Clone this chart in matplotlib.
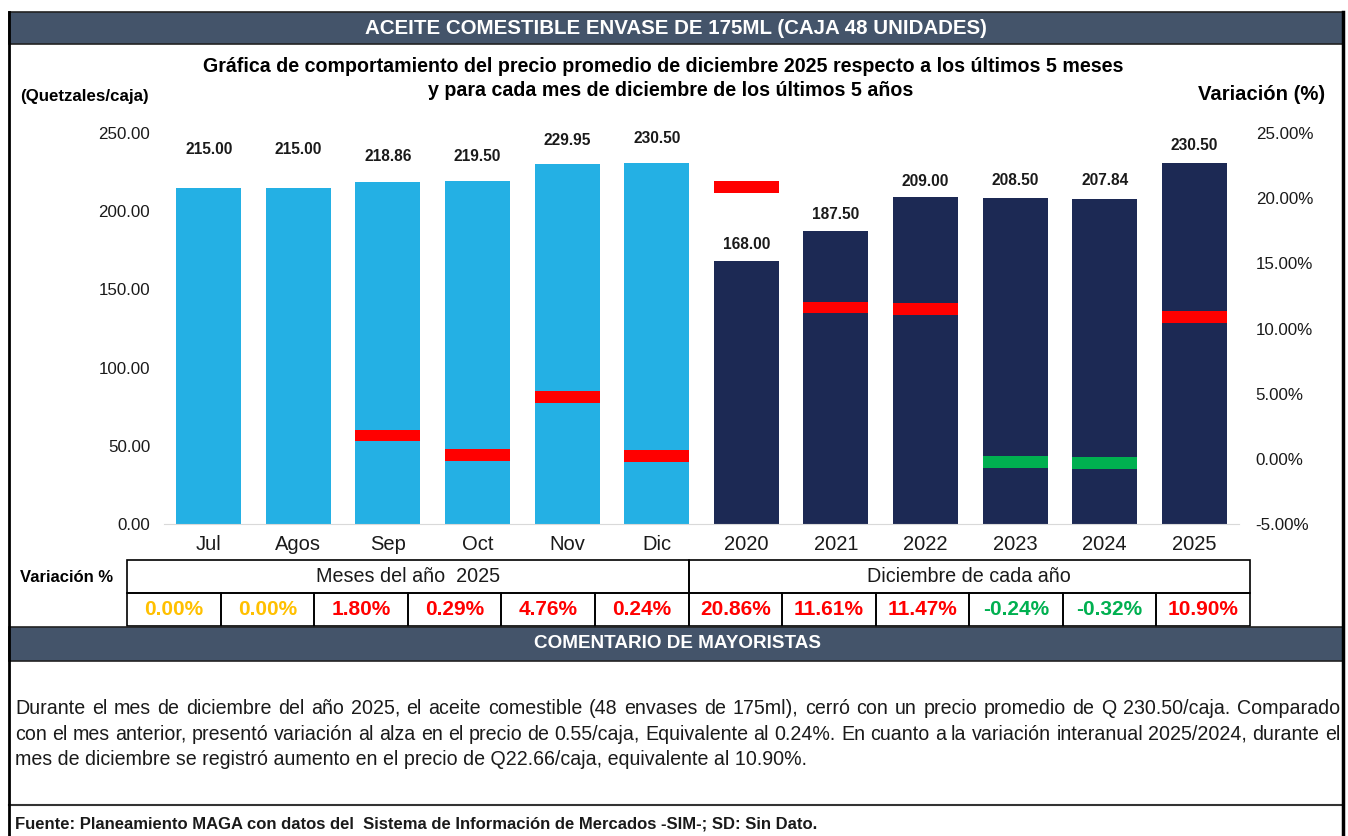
import numpy as np
import matplotlib
matplotlib.use("Agg")
import matplotlib.pyplot as plt
from matplotlib.patches import Rectangle
from matplotlib.lines import Line2D
from matplotlib.ticker import FuncFormatter

plt.rcParams['font.family'] = ['Liberation Sans', 'DejaVu Sans']

# precios promedio (Q/caja) y variación (%)
categories = ['Jul', 'Agos', 'Sep', 'Oct', 'Nov', 'Dic',
              '2020', '2021', '2022', '2023', '2024', '2025']
prices = [215.00, 215.00, 218.86, 219.50, 229.95, 230.50,
          168.00, 187.50, 209.00, 208.50, 207.84, 230.50]
variation = [0.00, 0.00, 1.80, 0.29, 4.76, 0.24,
             20.86, 11.61, 11.47, -0.24, -0.32, 10.90]
group_names = ['Meses del año  2025', 'Diciembre de cada año']
n_months = 6

title = 'ACEITE COMESTIBLE ENVASE DE 175ML (CAJA 48 UNIDADES)'
subtitle = ['Gráfica de comportamiento del precio promedio de diciembre 2025 respecto a los últimos 5 meses',
            'y para cada mes de diciembre de los últimos 5 años']
comment_title = 'COMENTARIO DE MAYORISTAS'
comment = ['Durante el mes de diciembre del año 2025, el aceite comestible (48 envases de 175ml), cerró con un precio promedio de Q 230.50/caja. Comparado',
           'con el mes anterior, presentó variación al alza en el precio de 0.55/caja, Equivalente al 0.24%. En cuanto a la variación interanual 2025/2024, durante el',
           'mes de diciembre se registró aumento en el precio de Q22.66/caja, equivalente al 10.90%.']
source = 'Fuente: Planeamiento MAGA con datos del  Sistema de Información de Mercados -SIM-; SD: Sin Dato.'

# distancia (px) de cada etiqueta sobre su barra
label_lift = [38, 38, 25, 24, 24, 25, 17, 16, 16, 17, 18, 18]

LIGHT = '#24B0E4'
DARK = '#1C2954'
HEADER = '#44546A'
RED = '#FF0000'
GREEN = '#00B050'
YELLOW = '#FFC000'
TXT = '#1A1A1A'

W, H = 1348, 836
fig = plt.figure(figsize=(W / 100, H / 100), dpi=100)


def fx(x):
    return x / W


def fy(y):
    return 1 - y / H


def box(x0, y0, x1, y1, **kw):
    fig.add_artist(Rectangle((fx(x0), fy(y1)), (x1 - x0) / W, (y1 - y0) / H,
                             transform=fig.transFigure, **kw))


def line(x0, y0, x1, y1, **kw):
    fig.add_artist(Line2D([fx(x0), fx(x1)], [fy(y0), fy(y1)],
                          transform=fig.transFigure, **kw))


def var_color(v):
    if v > 0:
        return RED
    if v < 0:
        return GREEN
    return YELLOW


# encabezados
box(9, 12, 1343, 44, facecolor=HEADER, edgecolor='#222222', lw=1.2)
fig.text(fx(676), fy(28), title, color='white', fontsize=14.8, fontweight='bold',
         ha='center', va='center')
fig.text(fx(663), fy(66), subtitle[0], fontsize=14.1, fontweight='bold', ha='center', va='center')
fig.text(fx(671), fy(91), subtitle[1], fontsize=14.1, fontweight='bold', ha='center', va='center')
fig.text(fx(20), fy(97), '(Quetzales/caja)', fontsize=12.2, fontweight='bold', ha='left', va='center')
fig.text(fx(1325), fy(94), 'Variación (%)', fontsize=14.6, fontweight='bold', ha='right', va='center')

# gráfica
ax = fig.add_axes([164 / W, fy(524), 1075 / W, 391 / H])
x = np.arange(len(categories))
colors = [LIGHT] * n_months + [DARK] * (len(categories) - n_months)
ax.bar(x, prices, width=0.725, color=colors, zorder=2)
ax.set_xlim(-0.5, len(categories) - 0.5)
ax.set_ylim(0, 250)
ax.set_yticks(np.arange(0, 251, 50))
ax.yaxis.set_major_formatter(FuncFormatter(lambda v, p: f'{v:.2f}'))
ax.set_xticks(x)
ax.set_xticklabels(categories, fontsize=14.5, color=TXT)
ax.tick_params(axis='y', length=0, pad=10, labelsize=12.2, labelcolor=TXT)
ax.tick_params(axis='x', length=0, pad=8)
for s in ['top', 'left', 'right']:
    ax.spines[s].set_visible(False)
ax.spines['bottom'].set_color('#D9D9D9')

for i, p in enumerate(prices):
    ax.annotate(f'{p:.2f}', (i, p), xytext=(0, label_lift[i] * 0.72),
                textcoords='offset points', ha='center', va='center',
                fontsize=11.2, fontweight='bold', color=TXT)

ax2 = ax.twinx()
ax2.set_ylim(-5, 25)
ax2.set_yticks(np.arange(-5, 26, 5))
ax2.yaxis.set_major_formatter(FuncFormatter(lambda v, p: f'{v:.2f}%'))
ax2.tick_params(axis='y', length=0, pad=12, labelsize=12.2, labelcolor=TXT)
for s in ax2.spines.values():
    s.set_visible(False)
for i, v in enumerate(variation):
    if v != 0:
        ax2.bar(i, 0.9, bottom=v - 0.45, width=0.725, color=var_color(v), zorder=3)

# tabla de variaciones
tx0, tx1 = 127, 1250
ty0, ty1, ty2 = 560, 593, 626
cw = (tx1 - tx0) / len(categories)
fig.text(fx(20), fy(577), 'Variación %', fontsize=12, fontweight='bold', ha='left', va='center')
split = tx0 + cw * n_months
for (a, b), name in zip([(tx0, split), (split, tx1)], group_names):
    box(a, ty0, b, ty1, facecolor='none', edgecolor='black', lw=1.2)
    fig.text(fx((a + b) / 2), fy((ty0 + ty1) / 2), name, fontsize=14.2,
             ha='center', va='center', color=TXT)
for i, v in enumerate(variation):
    a = tx0 + i * cw
    box(a, ty1, a + cw, ty2, facecolor='none', edgecolor='black', lw=1.2)
    fig.text(fx(a + cw / 2), fy((ty1 + ty2) / 2), f'{v:.2f}%', fontsize=15,
             fontweight='bold', ha='center', va='center', color=var_color(v))

box(9, 627, 1343, 661, facecolor=HEADER, edgecolor='#222222', lw=1.2)
fig.text(fx(678), fy(644), comment_title, color='white', fontsize=13.6,
         fontweight='bold', ha='center', va='center')

# comentario justificado (y = línea base)
renderer = fig.canvas.get_renderer()


def justify(text, x0, x1, y, **kw):
    words = text.split()
    arts = [fig.text(0, fy(y), w, va='baseline', ha='left', **kw) for w in words]
    widths = [a.get_window_extent(renderer).width for a in arts]
    gap = (x1 - x0 - sum(widths)) / (len(words) - 1)
    pos = x0
    for a, w in zip(arts, widths):
        a.set_x(fx(pos))
        pos += w + gap


for k, (txt, y) in enumerate(zip(comment, [714, 740, 765])):
    if k < len(comment) - 1:
        justify(txt, 15, 1340, y, fontsize=14.1, color=TXT)
    else:
        fig.text(fx(15), fy(y), txt, fontsize=14.1, color=TXT, ha='left', va='baseline')

line(9, 805, 1343, 805, color='#333333', lw=1.5)
fig.text(fx(15), fy(824), source, fontsize=12, fontweight='bold', ha='left', va='center', color=TXT)

# marco exterior
line(9, 12, 9, 836, color='black', lw=2)
line(1343, 12, 1343, 836, color='black', lw=2.5)

fig.savefig('out.png', dpi=100)
